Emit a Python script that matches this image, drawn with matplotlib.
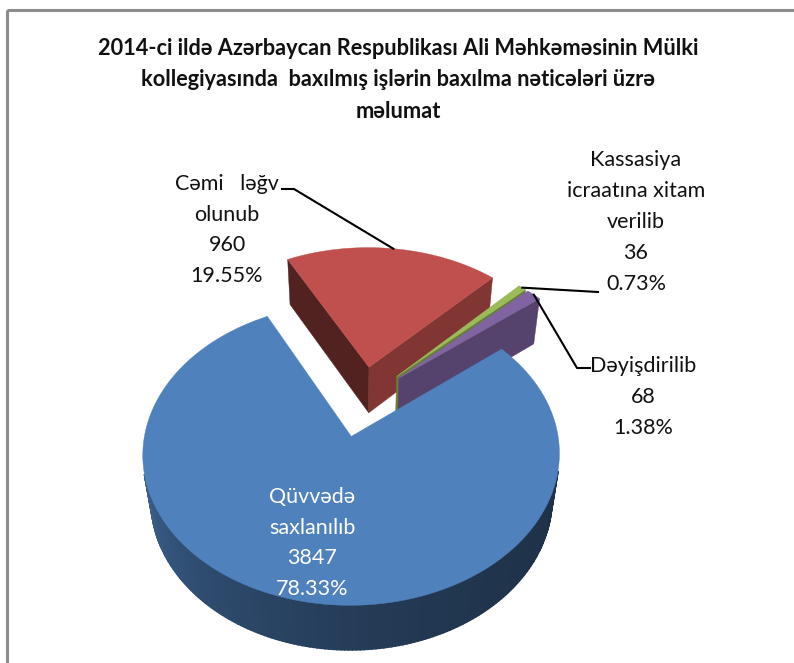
import numpy as np
import matplotlib.pyplot as plt
from matplotlib.patches import Polygon, Rectangle

OUTPUT_FILE = "out.png"

# chart data
labels = ["Qüvvədə\nsaxlanılıb", "Cəmi   ləğv\nolunub",
          "Kassasiya\nicraatına xitam\nverilib", "Dəyişdirilib"]
values = [3847, 960, 36, 68]
colors = ["#4F81BD", "#C0504D", "#9BBB59", "#8064A2"]
title = ("2014-ci ildə Azərbaycan Respublikası Ali Məhkəməsinin Mülki\n"
         "kollegiyasında  baxılmış işlərin baxılma nəticələri üzrə\n"
         "məlumat")

# 3d view settings (pixel canvas)
W, H = 794, 663
CX, CY = 362, 401
SCALE = 201
ELEV = np.radians(44.4)
DIST = 6.2
THICK = 0.33
EXPLODE = 0.25
START = 51.0

FONT = ["Lato", "DejaVu Sans"]
CAM = np.array([0.0, DIST * np.sin(ELEV), -DIST * np.cos(ELEV)])


def project(x, z, y=0.0):
    w = 1 + (z * np.cos(ELEV) - y * np.sin(ELEV)) / DIST
    up = z * np.sin(ELEV) + y * np.cos(ELEV)
    return CX + SCALE * x / w, CY - SCALE * up / w


def shade(color, f):
    rgb = np.array(plt.matplotlib.colors.to_rgb(color))
    return tuple(rgb * f)


def facing(normal, point):
    return np.dot(normal, CAM - point) > 0


def quad(ax, pts, color, lw=0.3):
    ax.add_patch(Polygon(pts, closed=True, facecolor=color,
                         edgecolor=color, linewidth=lw))


def draw_slice(ax, t0, t1, color, side_fn):
    mid = np.radians((t0 + t1) / 2)
    ox, oz = EXPLODE * np.sin(mid), EXPLODE * np.cos(mid)
    th = np.radians(np.linspace(t0, t1, max(int(t1 - t0), 4)))
    rx = ox + np.sin(th)
    rz = oz + np.cos(th)

    # radial faces
    for t, f, sign in [(th[0], 0.42, -1), (th[-1], 0.67, 1)]:
        n = np.array([np.sin(t + sign * np.pi / 2), 0, np.cos(t + sign * np.pi / 2)])
        if facing(n, np.array([ox, 0, oz])):
            ex, ez = ox + np.sin(t), oz + np.cos(t)
            pts = [project(ox, oz, 0), project(ex, ez, 0),
                   project(ex, ez, -THICK), project(ox, oz, -THICK)]
            quad(ax, pts, shade(color, f))

    # outer side
    for i in range(len(th) - 1):
        tm = (th[i] + th[i + 1]) / 2
        n = np.array([np.sin(tm), 0, np.cos(tm)])
        p = np.array([ox + np.sin(tm), 0, oz + np.cos(tm)])
        if facing(n, p):
            pts = [project(rx[i], rz[i], 0), project(rx[i + 1], rz[i + 1], 0),
                   project(rx[i + 1], rz[i + 1], -THICK), project(rx[i], rz[i], -THICK)]
            quad(ax, pts, shade(color, side_fn(np.degrees(tm) % 360)), lw=1.2)

    # top
    top = [project(ox, oz, 0)] + [project(x, z, 0) for x, z in zip(rx, rz)]
    ax.add_patch(Polygon(top, closed=True, facecolor=color, edgecolor=color, linewidth=0.3))
    return ox, oz


def blue_side(t):
    u = np.clip((t - 90) / 180, 0, 1)
    return 0.38 + 0.42 * u ** 2.2


def main():
    fig = plt.figure(figsize=(W / 100, H / 100), dpi=100)
    ax = fig.add_axes([0, 0, 1, 1])
    ax.set_xlim(0, W)
    ax.set_ylim(H, 0)
    ax.axis("off")

    total = sum(values)
    pct = [v / total * 100 for v in values]
    spans = [v / total * 360 for v in values]
    starts = START + np.concatenate([[0], np.cumsum(spans)[:-1]])

    # far slices first
    order = sorted(range(len(values)),
                   key=lambda i: -np.cos(np.radians(starts[i] + spans[i] / 2)))
    offsets = {}
    for i in order:
        offsets[i] = draw_slice(ax, starts[i], starts[i] + spans[i], colors[i],
                                blue_side)

    def rim(i):
        t = np.radians(starts[i] + spans[i] / 2)
        ox, oz = offsets[i]
        return project(ox + np.sin(t), oz + np.cos(t), 0)

    txt = dict(fontsize=15.5, family=FONT, ha="center", va="center",
               multialignment="center", linespacing=1.68)

    def label(i):
        return "%s\n%d\n%.2f%%" % (labels[i], values[i], pct[i])

    # blue label inside
    ax.text(312, 543, label(0), color="white", **txt)
    # red
    ax.text(227, 230, label(1), color="#111111", **txt)
    rx, ry = rim(1)
    ax.plot([282, 294, rx], [189, 189, ry], color="black", lw=1.5)
    # green
    ax.text(636, 222, label(2), color="#111111", **txt)
    gx, gy = rim(2)
    ax.plot([gx, 598], [gy, 292], color="black", lw=1.5)
    # purple
    ax.text(643, 397, label(3), color="#111111", **txt)
    px, py = rim(3)
    ax.plot([px, 577, 590], [py, 368, 368], color="black", lw=1.5)

    ax.text(398, 80, title, fontsize=15.7, fontweight="bold", family=FONT,
            ha="center", va="center", multialignment="center",
            linespacing=1.62, color="#111111")

    ax.add_patch(Rectangle((7, 10), W + 20, H + 20, fill=False,
                           edgecolor="#8c8c8c", linewidth=2.2))

    fig.savefig(OUTPUT_FILE, dpi=100)


if __name__ == "__main__":
    main()
